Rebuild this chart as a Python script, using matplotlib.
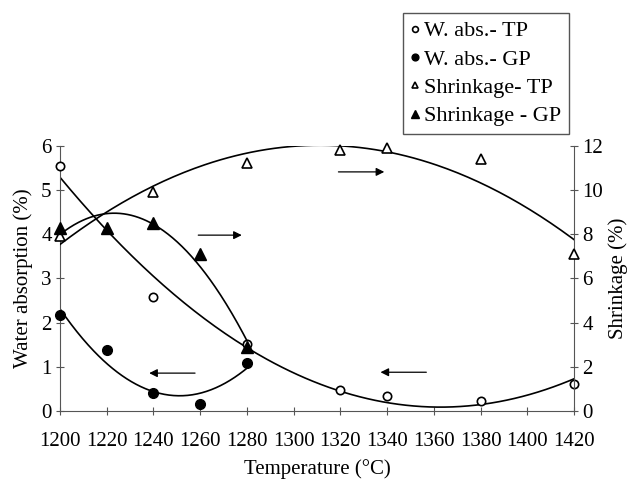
import matplotlib.pyplot as plt
import numpy as np

plt.rcParams['font.family'] = ['Liberation Serif', 'DejaVu Serif']

temp_tp = [1200, 1240, 1280, 1320, 1340, 1380, 1420]
wabs_tp = [5.55, 2.57, 1.52, 0.47, 0.34, 0.24, 0.61]
shr_tp = [7.9, 9.9, 11.2, 11.8, 11.9, 11.4, 7.1]

temp_gp = [1200, 1220, 1240, 1260, 1280]
wabs_gp = [2.17, 1.38, 0.40, 0.16, 1.10]
shr_gp = [8.3, 8.3, 8.5, 7.1, 2.9]

xticks = list(range(1200, 1421, 20))


def trend(x, y, deg):
    c = np.polyfit(x, y, deg)
    xs = np.linspace(min(x), max(x), 200)
    return xs, np.polyval(c, xs)


def main():
    fig = plt.figure(figsize=(6.34, 4.86), dpi=100)
    ax = fig.add_axes([0.0946, 0.154, 0.8107, 0.546])
    ax2 = ax.twinx()

    lw = 1.2
    ax.plot(*trend(temp_tp, wabs_tp, 2), color='black', lw=lw)
    ax.plot(*trend(temp_gp, wabs_gp, 2), color='black', lw=lw)
    ax2.plot(*trend(temp_tp, shr_tp, 2), color='black', lw=lw)
    ax2.plot(*trend(temp_gp, shr_gp, 2), color='black', lw=lw)

    h1, = ax.plot(temp_tp, wabs_tp, 'o', mfc='white', mec='black', mew=1.2, ms=6, clip_on=False, zorder=5)
    h2, = ax.plot(temp_gp, wabs_gp, 'o', color='black', ms=7, clip_on=False, zorder=5)
    h3, = ax2.plot(temp_tp, shr_tp, '^', mfc='white', mec='black', mew=1.2, ms=7, clip_on=False, zorder=5)
    h4, = ax2.plot(temp_gp, shr_gp, '^', color='black', ms=8, clip_on=False, zorder=5)

    ax.set_xlim(1200, 1420)
    ax.set_ylim(0, 6)
    ax2.set_ylim(0, 12)
    ax.set_xticks(xticks)
    ax.set_yticks(range(0, 7))
    ax2.set_yticks(range(0, 13, 2))

    for a in (ax, ax2):
        a.spines['top'].set_visible(False)
        for s in a.spines.values():
            s.set_color('#555555')
    ax.spines['right'].set_visible(False)
    ax2.spines['left'].set_visible(False)
    ax2.spines['bottom'].set_visible(False)

    ax.tick_params(axis='both', labelsize=15, color='#555555', length=6,
                   direction='inout', pad=3)
    ax.tick_params(axis='x', pad=12)
    ax2.tick_params(axis='y', labelsize=15, color='#555555', length=6,
                    direction='inout', pad=3)

    ax.set_xlabel('Temperature (°C)', fontsize=15, labelpad=6)
    ax.set_ylabel('Water absorption (%)', fontsize=15, labelpad=6)
    ax2.set_ylabel('Shrinkage (%)', fontsize=15, labelpad=4)

    arr = dict(arrowstyle='-|>', color='black', lw=0.9, mutation_scale=12)
    ax.annotate('', xy=(1279, 3.98), xytext=(1258, 3.98), arrowprops=arr)
    ax.annotate('', xy=(1237, 0.86), xytext=(1259, 0.86), arrowprops=arr)
    ax.annotate('', xy=(1340, 5.41), xytext=(1318, 5.41), arrowprops=arr)
    ax.annotate('', xy=(1336, 0.88), xytext=(1358, 0.88), arrowprops=arr)

    leg = fig.legend([h1, h2, h3, h4],
                     ['W. abs.- TP', 'W. abs.- GP', 'Shrinkage- TP', 'Shrinkage - GP'],
                     loc='upper left', bbox_to_anchor=(0.636, 0.973),
                     fontsize=16, handlelength=0.4, handletextpad=0.2,
                     borderpad=0.35, labelspacing=0.35, fancybox=False,
                     borderaxespad=0, framealpha=1, edgecolor='#555555',
                     markerscale=0.7)
    leg.get_frame().set_linewidth(1.0)

    fig.savefig('out.png', dpi=100)


main()
